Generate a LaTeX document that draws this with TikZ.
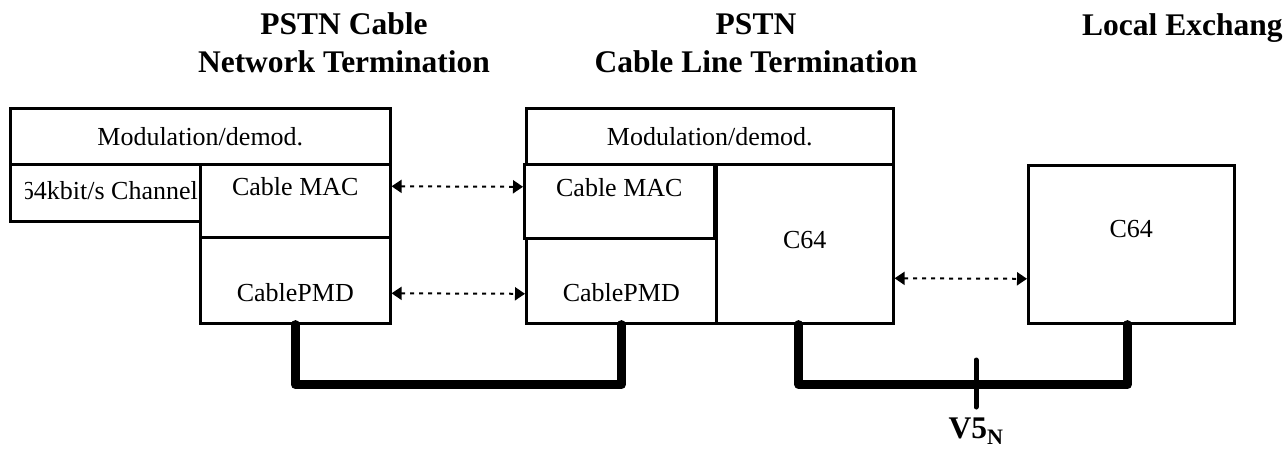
\documentclass[tikz,border=0pt]{standalone}
\usepackage{fontspec}
\setmainfont{Liberation Serif}
\usetikzlibrary{arrows.meta}
\newcommand\bodysize{\fontsize{26}{30}\selectfont}
\newcommand\headsize{\fontsize{31.5}{38}\selectfont\bfseries}

\begin{document}
\begin{tikzpicture}[
			x=1pt, y=-1pt
			,font=\bodysize
			,box/.style={draw, line width=2.6pt, anchor=north west, inner sep=0pt}
			,head/.style={font=\headsize, align=center, inner sep=0pt, anchor=north}
			,link/.style={{Triangle[length=10pt,width=13pt]}-{Triangle[length=10pt,width=13pt]}, line width=2pt, dash pattern=on 4pt off 5pt}
			,bus/.style={line width=9pt, line cap=round, line join=round}
			,v5tick/.style={line width=5pt, line cap=round}
		]
			\useasboundingbox (0,0) rectangle (1283,450);
			\clip (0,0) rectangle (1283,450);

			\node [head] (hnt) at (344,12) {PSTN Cable\\Network Termination};
			\node [head] (hlt) at (756,13) {PSTN\\Cable Line Termination};
			\node [head, anchor=north west] (hle) at (1082,13) {Local Exchang};

			\node [box, minimum width=380pt, minimum height=56pt] (lmod) at (9,107) {Modulation/demod.};
			\node [box, minimum width=190pt, minimum height=57pt] (lchan) at (9,163) {};
			\begin{scope}
				\clip (25,163) rectangle (199,220);
				\node [anchor=base east, inner sep=0pt] (chantxt) at (198,199) {64kbit/s Channel};
			\end{scope}
			\node [box, minimum width=190pt, minimum height=73pt, label={[yshift=14pt]center:Cable MAC}] (lmac) at (199,163) {};
			\node [box, minimum width=190pt, minimum height=86pt, label={[yshift=-12pt]center:CablePMD}] (lpmd) at (199,236) {};

			\node [box, minimum width=367pt, minimum height=56pt] (mmod) at (525,107) {Modulation/demod.};
			\node [box, minimum width=190pt, minimum height=74pt, label={[yshift=14pt]center:Cable MAC}] (mmac) at (523,163) {};
			\node [box, minimum width=190pt, minimum height=85pt, label={[yshift=-12pt]center:CablePMD}] (mpmd) at (525,237) {};
			\node [box, minimum width=177pt, minimum height=159pt, label={[yshift=3.5pt]center:C64}] (mc64) at (715,163) {};

			\node [box, minimum width=206pt, minimum height=158pt, label={[yshift=15pt]center:C64}] (rc64) at (1027,164) {};

			\draw [link] ([yshift=14.5pt]lmac.east) -- ([yshift=14.5pt]mmac.west);
			\draw [link] ([yshift=-13pt]lpmd.east) -- ([yshift=-13pt]mpmd.west);
			\draw [link] ([yshift=-34.5pt]mc64.east) -- ([yshift=-34.5pt]rc64.west);

			\draw [bus] (lpmd.south) -- ++(0,60) -| (mpmd.south);
			\draw [bus] ([xshift=-6pt]mc64.south) -- ++(0,60) -| ([xshift=-4pt]rc64.south);

			\coordinate (v5) at (976,382);
			\draw [v5tick] ([yshift=22pt]v5) -- ([yshift=-25pt]v5);
			\node [head] (v5lbl) at (976,418) {V5\textsubscript{N}};
		\end{tikzpicture}
\end{document}
